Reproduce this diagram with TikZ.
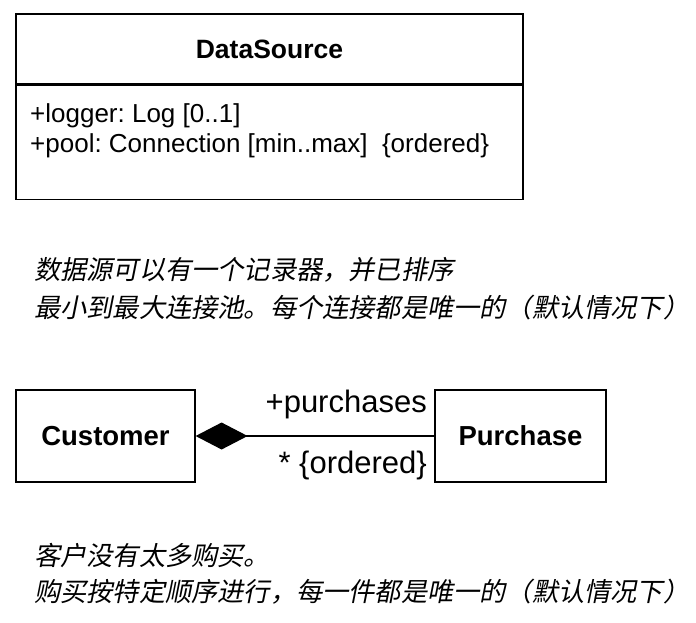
\documentclass[tikz,border=0pt]{standalone}
\usepackage{fontspec}
\setmainfont{Liberation Sans}
\newfontfamily\cjk[FakeSlant=0.2]{Noto Sans CJK SC}
\usetikzlibrary{arrows.meta, positioning}
\frenchspacing

\begin{document}
\begin{tikzpicture}[x=1pt, y=-1pt,
			classbox/.style={draw, line width=1.2pt, inner sep=0pt},
			attr/.style={font=\fontsize{26}{30}\selectfont, inner sep=0pt},
			role/.style={font=\fontsize{31}{36}\selectfont, inner sep=0pt},
			note/.style={font=\cjk\fontsize{26.2}{30}\selectfont, inner sep=0pt, anchor=west}]
			\useasboundingbox (0,0) rectangle (696,622);
			
			% DataSource
			\node (dsName) [classbox, minimum width=507pt, minimum height=70pt,
				font=\fontsize{26.5}{30}\selectfont\bfseries] at (269.5,49) {DataSource};
			\node (dsAttr) [classbox, minimum width=507pt, minimum height=114pt,
				below=0pt of dsName] {};
			\node (logger) [attr, anchor=base west] at (30,122) {+logger: Log [0..1]};
			\node (pool) [attr, anchor=base west] at (30,152)
				{+pool: Connection [min..max] \ \{ordered\}};
			
			\node (noteA) [note] at (34,270) {数据源可以有一个记录器，并已排序};
			\node (noteB) [note] at (34,308) {最小到最大连接池。每个连接都是唯一的（默认情况下）};
			
			% Customer -- Purchase
			\node (Customer) [classbox, minimum width=179pt, minimum height=92pt,
				font=\fontsize{27.5}{30}\selectfont\bfseries] at (105.5,436) {Customer};
			\node (Purchase) [classbox, minimum width=171pt, minimum height=92pt,
				font=\fontsize{27.5}{30}\selectfont\bfseries] at (520.5,436) {Purchase};
			\draw [line width=1.2pt, -{Diamond[length=52pt, width=27pt]}]
				(Purchase.west) -- (Customer.east);
			\node (roleName) [role, anchor=base east] at (427,412) {+purchases};
			\node (roleMult) [role, anchor=base east] at (427,473) {* \{ordered\}};
			
			\node (noteC) [note] at (34,555) {客户没有太多购买。};
			\node (noteD) [note] at (34,592) {购买按特定顺序进行，每一件都是唯一的（默认情况下）};
		\end{tikzpicture}
\end{document}
